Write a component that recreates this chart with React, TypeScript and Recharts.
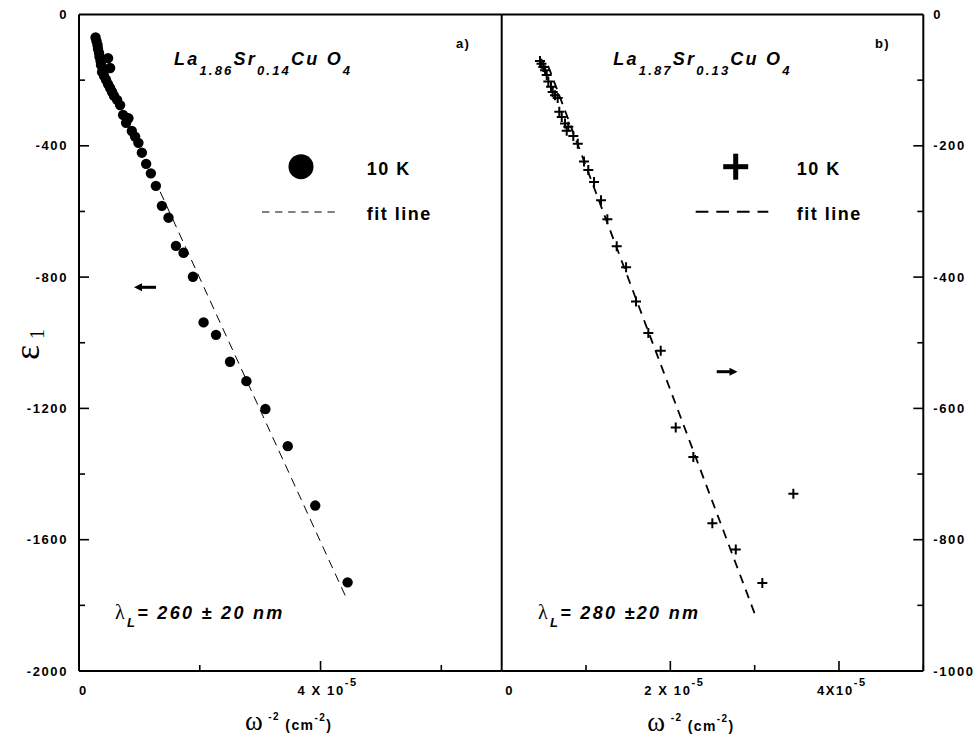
import React from 'react';
import { ScatterChart, Scatter, XAxis, YAxis } from 'recharts';

// ---- Panel a) La1.86Sr0.14CuO4, 10 K (x in units of 1e-5 cm^2) ----
const aX = [0.274, 0.29, 0.307, 0.315, 0.332, 0.34, 0.357, 0.365, 0.481, 0.515, 0.382, 0.415, 0.448, 0.481, 0.515, 0.548, 0.581, 0.631, 0.681, 0.73, 0.818, 0.78, 0.875, 0.929, 0.984, 1.041, 1.112, 1.19, 1.273, 1.373, 1.482, 1.605, 1.731, 1.887, 2.063, 2.269, 2.501, 2.772, 3.087, 3.457, 3.912, 4.448];
const aY = [-70, -81, -93, -105, -117, -129, -142, -154, -133, -163, -175, -187, -199, -212, -224, -236, -248, -260, -276, -306, -316, -330, -355, -372, -391, -421, -455, -484, -522, -583, -619, -705, -726, -799, -938, -976, -1058, -1117, -1202, -1315, -1496, -1730];
const aFitX = [1.344, 4.448];
const aFitY = [-540, -1786];

// ---- Panel b) La1.87Sr0.13CuO4, 10 K ----
const bX = [0.454, 0.472, 0.493, 0.514, 0.534, 0.553, 0.585, 0.605, 0.632, 0.664, 0.683, 0.712, 0.751, 0.79, 0.771, 0.849, 0.902, 0.976, 1.027, 1.095, 1.178, 1.253, 1.364, 1.475, 1.593, 1.739, 1.886, 2.064, 2.273, 2.498, 2.776, 3.091, 3.459];
const bY = [-71, -75, -80, -85, -92, -102, -110, -118, -123, -127, -148, -156, -166, -171, -177, -185, -197, -224, -237, -255, -283, -312, -353, -385, -437, -485, -512, -629, -674, -775, -815, -866, -730];
const bFitX = [0.55, 3.025];
const bFitY = [-78, -921];

// ---- Axis ticks ----
const aXTicks = [0, 2, 4, 6];
const aXLabels: Record<number, [string, string]> = { 0: ['0', ''], 4: ['4 X 10', '-5'] };
const aYTicks = [0, -200, -400, -600, -800, -1000, -1200, -1400, -1600, -1800, -2000];
const aYLabels = [0, -400, -800, -1200, -1600, -2000];
const bXTicks = [0, 1, 2, 3, 4, 5];
const bXLabels: Record<number, [string, string]> = { 0: ['0', ''], 2: ['2 X 10', '-5'], 4: ['4X10', '-5'] };
const bYTicks = [0, -100, -200, -300, -400, -500, -600, -700, -800, -900, -1000];
const bYLabels = [0, -200, -400, -600, -800, -1000];

const zip = (xs: number[], ys: number[]) => xs.map((x, i) => ({ x, y: ys[i] }));

const FONT = '"Liberation Sans", Arial, Helvetica, sans-serif';
const SERIF = '"Liberation Serif", "DejaVu Serif", serif';

const tickText = { fontFamily: FONT, fontWeight: 700, fontSize: 13, letterSpacing: 1.6, fill: '#000' } as const;

const makeBottomTick = (majors: number[], labels: Record<number, [string, string]>, offsets: Record<number, number>) => (p: any) => {
  const v = p.payload.value;
  const len = majors.includes(v) ? 10 : 6;
  const lab = labels[v];
  return (
    <g>
      {v !== 0 && <line x1={p.x} y1={p.y} x2={p.x} y2={p.y - len} stroke="#000" strokeWidth={1.6} />}
      {lab && (
        <text x={p.x + (offsets[v] ?? 0)} y={p.y + 24} style={tickText} textAnchor={v === 0 ? 'middle' : 'start'}>
          {lab[0]}
          {lab[1] && <tspan fontSize={11} dy={-9}>{lab[1]}</tspan>}
        </text>
      )}
    </g>
  );
};

const makeTopTick = (majors: number[]) => (p: any) => {
  const v = p.payload.value;
  if (v === 0) return <g />;
  const len = majors.includes(v) ? 10 : 6;
  return <line x1={p.x} y1={p.y} x2={p.x} y2={p.y + len} stroke="#000" strokeWidth={1.6} />;
};

const makeLeftTick = (labels: number[]) => (p: any) => {
  const v = p.payload.value;
  const major = labels.includes(v);
  const len = major ? 10 : 6;
  return (
    <g>
      {v !== 0 && v !== -2000 && <line x1={p.x} y1={p.y} x2={p.x + len} y2={p.y} stroke="#000" strokeWidth={1.6} />}
      {major && (
        <text x={p.x - 11} y={p.y + 4.5} style={tickText} textAnchor="end">{v}</text>
      )}
    </g>
  );
};

const makeRightTick = (labels: number[]) => (p: any) => {
  const v = p.payload.value;
  const major = labels.includes(v);
  const len = major ? 10 : 6;
  return (
    <g>
      {v !== 0 && v !== -1000 && <line x1={p.x} y1={p.y} x2={p.x - len} y2={p.y} stroke="#000" strokeWidth={1.6} />}
      {major && (
        <text x={p.x + 10} y={p.y + 4.5} style={tickText} textAnchor="start">{v}</text>
      )}
    </g>
  );
};

const Dot = (p: any) => <circle cx={p.cx} cy={p.cy} r={5.2} fill="#000" />;
const Cross = (p: any) => (
  <path d={`M${p.cx - 5},${p.cy}H${p.cx + 5}M${p.cx},${p.cy - 5}V${p.cy + 5}`} stroke="#000" strokeWidth={2} fill="none" />
);
const Nothing = () => <g />;

const axisLine = { stroke: '#000', strokeWidth: 2 };

const titleStyle = { fontFamily: FONT, fontWeight: 700, fontStyle: 'italic', fontSize: 18, letterSpacing: 2.2, fill: '#000' } as const;
const legStyle = { fontFamily: FONT, fontWeight: 700, fontSize: 18, letterSpacing: 1.5, fill: '#000' } as const;
const lamStyle = { fontFamily: FONT, fontWeight: 700, fontStyle: 'italic', fontSize: 18, letterSpacing: 2.3, fill: '#000' } as const;
const smallStyle = { fontFamily: FONT, fontWeight: 700, fontSize: 13, letterSpacing: 1.2, fill: '#000' } as const;
const unitStyle = { fontFamily: FONT, fontWeight: 700, fontSize: 14, letterSpacing: 1.4, fill: '#000' } as const;

export default function App() {
  return (
    <div style={{ position: 'absolute', left: 0, top: 0, width: 977, height: 742, background: '#fff', overflow: 'hidden' }}>
      <div style={{ position: 'absolute', left: 0, top: 0 }}>
        <ScatterChart width={510} height={742} margin={{ top: 13.5, right: 8.3, bottom: 70, left: 78 }}>
          <XAxis xAxisId="b" type="number" dataKey="x" domain={[0, 7]} ticks={aXTicks} interval={0} height={1}
            tickSize={0} tickMargin={0} tickLine={false} axisLine={axisLine}
            tick={makeBottomTick([4], aXLabels, { 0: 4.5, 4: -23 })} />
          <XAxis xAxisId="t" orientation="top" type="number" dataKey="x" domain={[0, 7]} ticks={aXTicks} interval={0} height={1}
            tickSize={0} tickMargin={0} tickLine={false} axisLine={axisLine} tick={makeTopTick([4])} />
          <YAxis yAxisId="l" type="number" dataKey="y" domain={[-2000, 0]} ticks={aYTicks} interval={0} width={1}
            tickSize={0} tickMargin={0} tickLine={false} axisLine={axisLine} tick={makeLeftTick(aYLabels)} />
          <Scatter xAxisId="b" yAxisId="l" data={zip(aFitX, aFitY)} shape={Nothing} isAnimationActive={false}
            line={{ stroke: '#000', strokeWidth: 1, strokeDasharray: '9 6' }} />
          <Scatter xAxisId="b" yAxisId="l" data={zip(aX, aY)} shape={Dot} isAnimationActive={false} />
        </ScatterChart>
      </div>
      <div style={{ position: 'absolute', left: 490, top: 0 }}>
        <ScatterChart width={487} height={742} margin={{ top: 13.5, right: 52.7, bottom: 70, left: 10.7 }}>
          <XAxis xAxisId="b" type="number" dataKey="x" domain={[0, 5]} ticks={bXTicks} interval={0} height={1}
            tickSize={0} tickMargin={0} tickLine={false} axisLine={axisLine}
            tick={makeBottomTick([2, 4], bXLabels, { 0: 8, 2: -26, 4: -22 })} />
          <XAxis xAxisId="t" orientation="top" type="number" dataKey="x" domain={[0, 5]} ticks={bXTicks} interval={0} height={1}
            tickSize={0} tickMargin={0} tickLine={false} axisLine={axisLine} tick={makeTopTick([2, 4])} />
          <YAxis yAxisId="l" orientation="left" type="number" dataKey="y" domain={[-1000, 0]} width={1}
            tickLine={false} tick={false} axisLine={axisLine} />
          <YAxis yAxisId="r" orientation="right" type="number" dataKey="y" domain={[-1000, 0]} ticks={bYTicks} interval={0} width={1}
            tickSize={0} tickMargin={0} tickLine={false} axisLine={axisLine} tick={makeRightTick(bYLabels)} />
          <Scatter xAxisId="b" yAxisId="r" data={zip(bFitX, bFitY)} shape={Nothing} isAnimationActive={false}
            line={{ stroke: '#000', strokeWidth: 1.8, strokeDasharray: '9 7' }} />
          <Scatter xAxisId="b" yAxisId="r" data={zip(bX, bY)} shape={Cross} isAnimationActive={false} />
        </ScatterChart>
      </div>
      <svg width={977} height={742} style={{ position: 'absolute', left: 0, top: 0, pointerEvents: 'none' }}>
        {/* panel a annotations */}
        <text x={456} y={48} style={smallStyle}>a)</text>
        <text x={174} y={65} style={titleStyle}>
          La<tspan fontSize={13} dy={10}>1.86</tspan><tspan dy={-10}>Sr</tspan><tspan fontSize={13} dy={10}>0.14</tspan><tspan dy={-10}>Cu O</tspan><tspan fontSize={13} dy={10}>4</tspan>
        </text>
        <circle cx={301} cy={166.7} r={12.5} fill="#000" />
        <text x={366.7} y={175} style={legStyle}>10 K</text>
        <line x1={262} y1={212} x2={340} y2={212} stroke="#000" strokeWidth={1} strokeDasharray="7.3 5.8" />
        <text x={366.7} y={220} style={legStyle}>fit line</text>
        <line x1={140} y1={287.3} x2={156} y2={287.3} stroke="#000" strokeWidth={3} />
        <polygon points="134,287.3 142,283.3 142,291.3" fill="#000" />
        <text x={115} y={619} style={lamStyle}>
          <tspan fontFamily={SERIF} fontStyle="normal" fontWeight={400} fontSize={20}>λ</tspan><tspan fontSize={13} dy={8}>L</tspan><tspan dy={-8}>= 260 ± 20 nm</tspan>
        </text>
        <text transform="translate(39,360) rotate(-90)" fontFamily={SERIF} fill="#000">
          <tspan fontSize={36}>ε</tspan><tspan fontSize={20} dx={6} dy={5}>1</tspan>
        </text>
        <text x={245} y={730} style={unitStyle}>
          <tspan fontFamily={SERIF} fontWeight={400} fontSize={27}>ω</tspan><tspan fontSize={10} dy={-10}> -2</tspan><tspan dy={10}> (cm</tspan><tspan fontSize={10} dy={-9}>-2</tspan><tspan dy={9}>)</tspan>
        </text>
        {/* panel b annotations */}
        <text x={875} y={48} style={smallStyle}>b)</text>
        <text x={613.3} y={65} style={titleStyle}>
          La<tspan fontSize={13} dy={10}>1.87</tspan><tspan dy={-10}>Sr</tspan><tspan fontSize={13} dy={10}>0.13</tspan><tspan dy={-10}>Cu O</tspan><tspan fontSize={13} dy={10}>4</tspan>
        </text>
        <rect x={723.2} y={164.2} width={25} height={5} fill="#000" />
        <rect x={733.2} y={153.7} width={5} height={26} fill="#000" />
        <text x={796.7} y={175} style={legStyle}>10 K</text>
        <line x1={695.7} y1={211.7} x2={768.3} y2={211.7} stroke="#000" strokeWidth={2} strokeDasharray="12.7 7.9" />
        <text x={796.7} y={220} style={legStyle}>fit line</text>
        <line x1={716.7} y1={371.7} x2={731} y2={371.7} stroke="#000" strokeWidth={3} />
        <polygon points="737.5,371.7 729.5,367.7 729.5,375.7" fill="#000" />
        <text x={538} y={619} style={lamStyle}>
          <tspan fontFamily={SERIF} fontStyle="normal" fontWeight={400} fontSize={20}>λ</tspan><tspan fontSize={13} dy={8}>L</tspan><tspan dy={-8}>= 280 ±20 nm</tspan>
        </text>
        <text x={647.3} y={731} style={unitStyle}>
          <tspan fontFamily={SERIF} fontWeight={400} fontSize={27}>ω</tspan><tspan fontSize={10} dy={-10}> -2</tspan><tspan dy={10}> (cm</tspan><tspan fontSize={10} dy={-9}>-2</tspan><tspan dy={9}>)</tspan>
        </text>
      </svg>
    </div>
  );
}
